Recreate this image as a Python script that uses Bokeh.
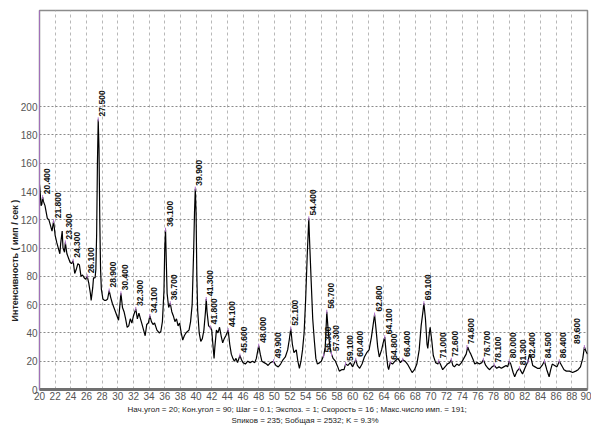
import math
from bokeh.plotting import figure
from bokeh.models import Range1d, FixedTicker, Title, ColumnDataSource
from bokeh.core.properties import value
from bokeh.embed import file_html
from bokeh.resources import INLINE

# 2-theta (deg) and intensity (counts/s)
two_theta = [20.0, 20.1, 20.2, 20.3, 20.4, 20.5, 20.7, 20.9, 21.0, 21.2, 21.4, 21.6, 21.8, 22.0, 22.2, 22.4, 22.6, 22.7, 22.9, 23.0,
             23.2, 23.3, 23.5, 23.7, 23.9, 24.1, 24.3, 24.5, 24.7, 24.9, 25.1, 25.3, 25.5, 25.7, 25.9, 26.1, 26.3, 26.5, 26.6, 26.8,
             26.9, 27.1, 27.2, 27.3, 27.4, 27.5, 27.6, 27.7, 27.8, 27.9, 28.1, 28.3, 28.5, 28.7, 28.9, 29.1, 29.3, 29.5, 29.7, 29.9,
             30.1, 30.4, 30.6, 30.8, 31.0, 31.2, 31.4, 31.6, 31.8, 32.0, 32.3, 32.5, 32.7, 32.9, 33.1, 33.3, 33.5, 33.7, 33.9, 34.1,
             34.3, 34.5, 34.7, 35.0, 35.3, 35.5, 35.7, 35.9, 36.0, 36.1, 36.2, 36.3, 36.5, 36.7, 36.9, 37.1, 37.3, 37.5, 37.7, 37.9,
             38.1, 38.3, 38.5, 38.7, 38.9, 39.1, 39.3, 39.5, 39.7, 39.8, 39.9, 40.0, 40.1, 40.2, 40.4, 40.6, 40.8, 41.0, 41.2, 41.3,
             41.4, 41.6, 41.8, 42.0, 42.1, 42.3, 42.4, 42.6, 42.8, 43.0, 43.2, 43.4, 43.6, 43.8, 44.1, 44.3, 44.5, 44.7, 44.9, 45.1,
             45.3, 45.6, 45.8, 46.0, 46.3, 46.6, 46.9, 47.2, 47.5, 47.7, 48.0, 48.2, 48.4, 48.7, 49.0, 49.2, 49.5, 49.9, 50.2, 50.5,
             50.8, 51.1, 51.4, 51.7, 51.9, 52.1, 52.3, 52.5, 52.8, 53.0, 53.2, 53.4, 53.6, 53.8, 54.0, 54.2, 54.4, 54.5, 54.7, 54.9,
             55.1, 55.3, 55.5, 55.8, 56.0, 56.3, 56.5, 56.7, 56.9, 57.1, 57.3, 57.5, 57.8, 58.1, 58.3, 58.6, 58.9, 59.1, 59.4, 59.7,
             60.0, 60.4, 60.6, 60.9, 61.2, 61.5, 61.8, 62.1, 62.4, 62.6, 62.8, 63.0, 63.2, 63.4, 63.7, 63.9, 64.1, 64.3, 64.5, 64.6,
             64.8, 65.1, 65.4, 65.8, 66.1, 66.4, 66.7, 67.0, 67.3, 67.6, 67.9, 68.2, 68.5, 68.75, 69.0, 69.1, 69.3, 69.5, 69.6, 69.8,
             69.9, 70.1, 70.3, 70.6, 70.9, 71.0, 71.2, 71.5, 71.8, 72.1, 72.4, 72.6, 72.8, 73.0, 73.3, 73.6, 73.9, 74.2, 74.5, 74.7,
             74.9, 75.1, 75.4, 75.6, 75.9, 76.2, 76.5, 76.7, 77.0, 77.3, 77.5, 77.8, 78.1, 78.4, 78.7, 79.0, 79.3, 79.6, 79.8, 80.0,
             80.2, 80.5, 80.7, 81.0, 81.3, 81.5, 81.7, 82.0, 82.4, 82.6, 82.8, 83.0, 83.3, 83.6, 83.9, 84.2, 84.5, 84.8, 85.1, 85.3,
             85.5, 85.8, 86.1, 86.4, 86.7, 87.0, 87.3, 87.7, 88.1, 88.5, 88.8, 89.1, 89.4, 89.6, 89.8, 90.0]
intensity = [145, 138, 130, 131, 136, 133, 130, 124, 121, 120, 116, 112, 119, 109, 104, 100, 96, 103, 112, 100,
             97, 104, 96, 93, 90, 89, 91, 82, 85, 89, 88, 80, 81, 79, 78, 80, 75, 68, 63, 72,
             79, 79, 85, 110, 160, 191, 170, 120, 85, 71, 64, 63, 63, 64, 70, 65, 61, 58, 55, 52,
             49, 68, 58, 55, 50, 44, 45, 50, 47, 52, 57, 50, 54, 50, 46, 42, 38, 46, 47, 52,
             48, 46, 47, 42, 40, 41, 48, 70, 100, 113, 90, 68, 58, 61, 55, 52, 48, 50, 45, 47,
             40, 35, 38, 40, 41, 42, 48, 60, 100, 125, 142, 125, 80, 56, 40, 34, 36, 42, 55, 64,
             55, 45, 44, 42, 35, 22, 30, 42, 40, 44, 38, 33, 36, 38, 42, 32, 25, 22, 20, 22,
             19, 24, 21, 19, 18, 20, 19, 20, 19, 22, 31, 25, 20, 19, 18, 17, 19, 20, 17, 16,
             18, 21, 23, 28, 35, 43, 32, 26, 28, 20, 15, 20, 28, 40, 64, 95, 121, 105, 77, 50,
             35, 22, 18, 19, 20, 24, 30, 55, 40, 30, 25, 22, 20, 16, 13, 14, 14, 18, 17, 19,
             16, 21, 17, 15, 18, 23, 26, 28, 37, 45, 53, 42, 30, 23, 28, 33, 37, 25, 16, 14,
             19, 18, 20, 22, 19, 21, 20, 18, 15, 12, 14, 18, 28, 45, 56, 61, 50, 32, 29, 40,
             44, 35, 24, 19, 18, 20, 18, 14, 16, 18, 19, 21, 17, 16, 18, 17, 19, 22, 25, 30,
             27, 25, 21, 18, 19, 18, 19, 21, 17, 15, 14, 16, 17, 15, 16, 15, 16, 17, 16, 20,
             18, 12, 9, 13, 15, 13, 11, 15, 20, 25, 22, 17, 16, 15, 15, 17, 20, 14, 9, 14,
             18, 17, 16, 20, 17, 14, 13, 13, 12, 13, 14, 16, 22, 30, 27, 25]

# labelled peaks
peak_pos = [20.4, 21.8, 23.3, 24.3, 26.1, 27.5, 28.9, 30.4, 32.3, 34.1, 36.1, 36.7, 39.9, 41.3, 41.8, 44.1, 45.6,
            48.0, 49.9, 52.1, 54.4, 56.3, 56.7, 57.3, 59.1, 60.4, 62.8, 64.1, 64.8, 66.4, 69.1, 71.0, 72.6, 74.6,
            76.7, 78.1, 80.0, 81.3, 82.4, 84.5, 86.4, 89.6]
peak_int = [136, 119, 104, 91, 80, 191, 70, 68, 57, 52, 113, 61, 142, 64, 44, 42, 24,
            31, 20, 43, 121, 24, 55, 25, 18, 21, 53, 37, 19, 21, 61, 20, 21, 30,
            21, 17, 20, 15, 20, 20, 20, 30]
peak_txt = ["%.3f" % v for v in peak_pos]

x_ticks = list(range(20, 91, 2))
y_ticks = list(range(0, 201, 20))

caption1 = "Нач.угол = 20;  Кон.угол = 90;  Шаг = 0.1;  Экспоз. = 1;  Скорость =  16 ;  Макс.число имп. = 191;"
caption2 = "Sпиков =    235;  Sобщая =   2532;  K =   9.3%"
ylabel = "Интенсивность ( имп / сек )"

FONT = "'Liberation Sans Narrow', 'Liberation Sans', Arial, sans-serif"

p = figure(width=591, height=428, output_backend="svg", toolbar_location=None,
           x_range=Range1d(20, 90), y_range=Range1d(0, 268),
           min_border_left=39, min_border_right=4, min_border_top=10, min_border_bottom=39)
p.background_fill_color = "white"
p.border_fill_color = "white"
p.outline_line_color = "#8c8c8c"
p.outline_line_width = 1.5

p.xaxis.ticker = FixedTicker(ticks=x_ticks)
p.yaxis.ticker = FixedTicker(ticks=y_ticks)
for ax in (p.xaxis[0], p.yaxis[0]):
    ax.major_tick_out = 0
    ax.major_tick_in = 0
    ax.minor_tick_out = 0
    ax.minor_tick_in = 0
    ax.major_label_text_font = FONT
    ax.major_label_text_font_size = "10px"
    ax.major_label_text_color = "#555555"
    ax.major_label_standoff = 2
p.xaxis.axis_line_color = "#707070"
p.xaxis.axis_line_width = 3
p.yaxis.axis_line_color = "#a070b8"
p.yaxis.axis_line_width = 1

p.xgrid.grid_line_color = "#b8b8b8"
p.xgrid.grid_line_dash = "3 3"
p.xgrid.grid_line_width = 1
p.ygrid.grid_line_color = "#8a8a8a"
p.ygrid.grid_line_dash = "2 2"
p.ygrid.grid_line_width = 1

p.line(two_theta, intensity, line_color="black", line_width=1.2)

# the last label sits against the right border, so it goes on the left of its peak
x_off = [1] * (len(peak_pos) - 1) + [-10]
src = ColumnDataSource(dict(x=peak_pos, y=peak_int, t=peak_txt, xo=x_off))
p.scatter("x", "y", source=src, marker="dash", angle=math.pi / 2, size=4,
          line_color="#b070c8", line_width=1)
p.text("x", "y", text="t", source=src, angle=math.pi / 2, text_align="left",
       text_baseline="top", x_offset="xo", y_offset=-3, text_font=value(FONT),
       text_font_size="8.5px", text_font_style="bold", text_color="#111111")

p.add_layout(Title(text=ylabel, align="left", offset=68, text_font=FONT,
                   text_font_size="9px", text_font_style="bold", text_color="#222222",
                   standoff=-4), "left")
p.add_layout(Title(text=caption1, align="left", offset=88, text_font=FONT,
                   text_font_size="8px", text_font_style="normal", text_color="#222222",
                   standoff=0), "below")
p.add_layout(Title(text=caption2, align="left", offset=192, text_font=FONT,
                   text_font_size="8px", text_font_style="normal", text_color="#222222",
                   standoff=0), "below")

open("out.html", "w").write(file_html(p, INLINE))
